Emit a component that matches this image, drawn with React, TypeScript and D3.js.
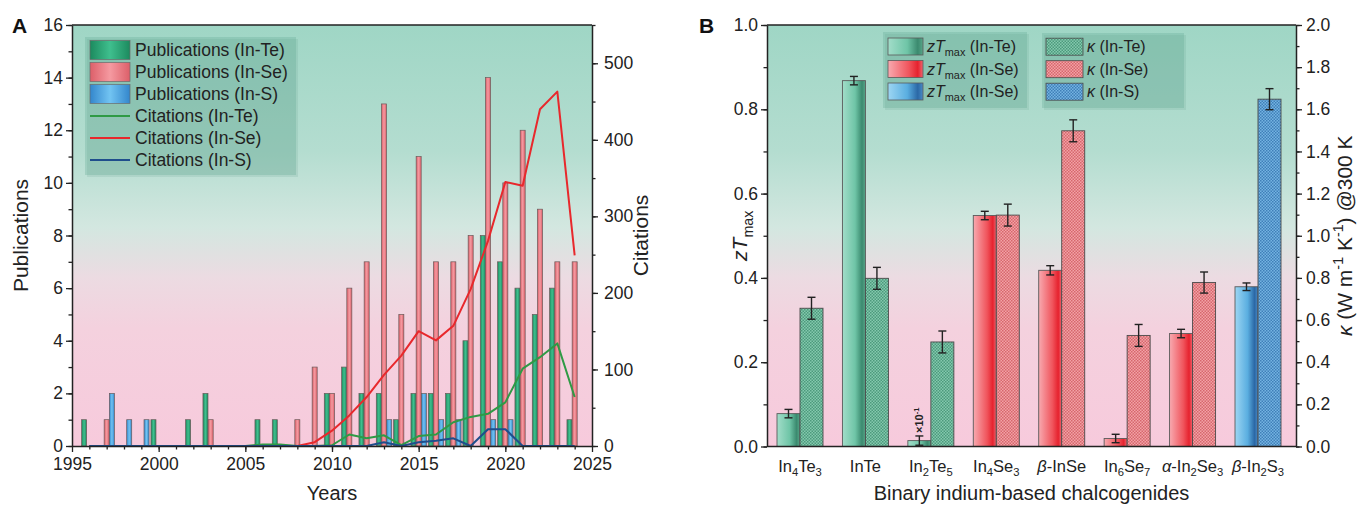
import React, { useEffect, useRef } from 'react';
import * as d3 from 'd3';

const FONT = "'Liberation Sans', Arial, Helvetica, sans-serif";

// ---- panel A data ----
const years = [1996, 1997, 1998, 1999, 2000, 2001, 2002, 2003, 2004, 2005, 2006, 2007, 2008, 2009, 2010,
  2011, 2012, 2013, 2014, 2015, 2016, 2017, 2018, 2019, 2020, 2021, 2022, 2023, 2024];
const pubTe = [1, 0, 0, 0, 1, 0, 1, 2, 0, 0, 1, 1, 0, 0, 2, 3, 2, 2, 1, 2, 2, 2, 4, 8, 7, 6, 5, 6, 1];
const pubSe = [0, 1, 0, 0, 0, 0, 0, 1, 0, 0, 0, 0, 1, 3, 2, 6, 7, 13, 5, 11, 7, 7, 8, 14, 10, 12, 9, 7, 7];
const pubS = [0, 2, 1, 1, 0, 0, 0, 0, 0, 0, 0, 0, 0, 0, 0, 0, 0, 1, 0, 2, 1, 1, 0, 1, 1, 0, 0, 0, 0];
const citeTe = [0, 0, 0, 0, 0, 0, 0, 0, 0, 0, 2, 2, 0, 0, 1, 15, 10, 14, 1, 13, 15, 31, 38, 42, 57, 101, 116, 134, 64];
const citeSe = [0, 0, 0, 0, 0, 0, 0, 0, 0, 0, 0, 0, 0, 5, 20, 40, 64, 93, 118, 150, 138, 157, 205, 268, 345, 340, 440, 463, 249];
const citeS = [0, 0, 0, 0, 0, 0, 0, 0, 0, 0, 0, 0, 0, 0, 0, 0, 0, 5, 0, 5, 7, 10, 0, 22, 22, 0, 0, 0, 0];
const yearTicks = [1995, 2000, 2005, 2010, 2015, 2020, 2025];
const pubTicks = [0, 2, 4, 6, 8, 10, 12, 14, 16];
const citeTicks = [0, 100, 200, 300, 400, 500];

// ---- panel B data ----
const materials = ['In_4Te_3', 'InTe', 'In_2Te_5', 'In_4Se_3', '*β*-InSe', 'In_6Se_7', '*α*-In_2Se_3', '*β*-In_2S_3'];
const families = ['Te', 'Te', 'Te', 'Se', 'Se', 'Se', 'Se', 'S'];
const ztMax = [0.078, 0.868, 0.014, 0.548, 0.418, 0.019, 0.268, 0.379];
const ztErr = [0.01, 0.01, 0.011, 0.01, 0.011, 0.01, 0.01, 0.009];
const kappa = [0.656, 0.798, 0.496, 1.098, 1.498, 0.527, 0.778, 1.648];
const kappaErr = [0.052, 0.052, 0.052, 0.052, 0.052, 0.052, 0.05, 0.05];
const ztTicks = [0, 0.2, 0.4, 0.6, 0.8, 1.0];
const kappaTicks = [0, 0.2, 0.4, 0.6, 0.8, 1.0, 1.2, 1.4, 1.6, 1.8, 2.0];

const famColor = {
  Te: { line: '#2f9a45', grad: 'barTe', zt: 'ztTe', pat: 'patTe' },
  Se: { line: '#e8282c', grad: 'barSe', zt: 'ztSe', pat: 'patSe' },
  S: { line: '#1f4e8c', grad: 'barS', zt: 'ztS', pat: 'patS' },
};

// markup: *italic*, _x / _{..} subscript, ^{..} superscript
function rich(text, content, fs) {
  const parts = content.split(/(\*[^*]+\*|_\{[^}]+\}|_[^{]|\^\{[^}]+\})/).filter((s) => s);
  let shift = 0;
  parts.forEach((p) => {
    let t = p, italic = false, target = 0, size = fs;
    if (p.startsWith('*')) { t = p.slice(1, -1); italic = true; }
    else if (p.startsWith('_')) { t = p[1] === '{' ? p.slice(2, -1) : p.slice(1); target = fs * 0.28; size = fs * 0.68; }
    else if (p.startsWith('^')) { t = p.slice(2, -1); target = -fs * 0.42; size = fs * 0.68; }
    text.append('tspan')
      .attr('dy', target - shift)
      .attr('font-size', size)
      .attr('font-style', italic ? 'italic' : null)
      .text(t);
    shift = target;
  });
}

function styleAxis(g, fs) {
  g.attr('font-family', FONT).attr('font-size', fs).attr('color', '#222');
  g.selectAll('.domain').attr('stroke-width', 1.5);
  g.selectAll('.tick line').attr('stroke-width', 1.3);
}

const App = () => {
  const ref = useRef(null);

  useEffect(() => {
    const svg = d3.select(ref.current);
    svg.selectAll('*').remove();
    const defs = svg.append('defs');

    // background gradient
    const bg = defs.append('linearGradient').attr('id', 'bg').attr('x1', 0).attr('x2', 0).attr('y1', 0).attr('y2', 1);
    [[0, '#9fd6c5'], [0.3, '#b4ddd0'], [0.48, '#d3e7e0'], [0.6, '#ecdbe2'], [0.72, '#f4d1de'], [1, '#f7cadc']]
      .forEach(([o, c]) => bg.append('stop').attr('offset', o).attr('stop-color', c));

    const hGrad = (id, stops) => {
      const g = defs.append('linearGradient').attr('id', id).attr('x1', 0).attr('x2', 1).attr('y1', 0).attr('y2', 0);
      stops.forEach(([o, c]) => g.append('stop').attr('offset', o).attr('stop-color', c));
    };
    hGrad('barTe', [[0, '#1c8a5e'], [0.5, '#3fbf8e'], [1, '#1c8a5e']]);
    hGrad('barSe', [[0, '#dc5f69'], [0.5, '#f59aa1'], [1, '#dc5f69']]);
    hGrad('barS', [[0, '#3386cc'], [0.5, '#72c4f2'], [1, '#3386cc']]);
    hGrad('ztTe', [[0, '#a2ddc9'], [0.55, '#6fc5a7'], [0.85, '#3b8a6f'], [1, '#58a689']]);
    hGrad('ztSe', [[0, '#f8aab0'], [0.6, '#f0545c'], [0.85, '#e6222e'], [1, '#ee6670']]);
    hGrad('ztS', [[0, '#9dd6f3'], [0.55, '#5aaee0'], [0.85, '#2b68a6'], [1, '#4a8bc6']]);

    const pattern = (id, base, dot) => {
      const p = defs.append('pattern').attr('id', id).attr('patternUnits', 'userSpaceOnUse').attr('width', 3).attr('height', 3);
      p.append('rect').attr('width', 3).attr('height', 3).attr('fill', base);
      p.append('rect').attr('width', 1.5).attr('height', 1.5).attr('fill', dot);
      p.append('rect').attr('x', 1.5).attr('y', 1.5).attr('width', 1.5).attr('height', 1.5).attr('fill', dot);
    };
    pattern('patTe', '#84c9ae', '#4c9a7c');
    pattern('patSe', '#f3a2a6', '#d6676d');
    pattern('patS', '#74b4e2', '#3f7fb8');

    // ================= Panel A =================
    const xA = d3.scaleLinear().domain([1995, 2025]).range([72, 592]);
    const yL = d3.scaleLinear().domain([0, 16]).range([446, 25]);
    const yR = d3.scaleLinear().domain([0, 550]).range([446, 25]);
    const A = svg.append('g');

    A.append('rect').attr('x', xA(1995)).attr('y', yL(16)).attr('width', xA(2025) - xA(1995))
      .attr('height', yL(0) - yL(16)).attr('fill', 'url(#bg)');

    const barW = 0.29;
    const pubSeries = [
      { vals: pubTe, off: -0.3, fam: 'Te' },
      { vals: pubSe, off: 0, fam: 'Se' },
      { vals: pubS, off: 0.3, fam: 'S' },
    ];
    pubSeries.forEach((s) => {
      A.append('g').selectAll('rect')
        .data(years.map((yr, i) => ({ yr, v: s.vals[i] })).filter((d) => d.v > 0))
        .join('rect')
        .attr('x', (d) => xA(d.yr + s.off - barW / 2))
        .attr('width', xA(1995 + barW) - xA(1995))
        .attr('y', (d) => yL(d.v))
        .attr('height', (d) => yL(0) - yL(d.v))
        .attr('fill', `url(#${famColor[s.fam].grad})`)
        .attr('stroke', '#6b5a5a')
        .attr('stroke-width', 0.7);
    });

    const line = d3.line().x((d, i) => xA(years[i])).y((d) => yR(d));
    [[citeTe, 'Te'], [citeSe, 'Se'], [citeS, 'S']].forEach(([vals, fam]) => {
      A.append('path').datum(vals).attr('d', line).attr('fill', 'none')
        .attr('stroke', famColor[fam].line).attr('stroke-width', 2).attr('stroke-linejoin', 'round');
    });

    // axes A
    const axB = A.append('g').attr('transform', `translate(0,${yL(0)})`)
      .call(d3.axisBottom(xA).tickValues(yearTicks).tickFormat(d3.format('d')).tickSize(6).tickSizeOuter(0).tickPadding(6));
    A.append('g').attr('transform', `translate(0,${yL(0)})`)
      .call(d3.axisBottom(xA).tickValues(years).tickFormat('').tickSize(3.5).tickSizeOuter(0))
      .call((g) => g.select('.domain').remove()).call((g) => styleAxis(g, 17));
    styleAxis(axB, 17.5);

    const axL = A.append('g').attr('transform', `translate(${xA(1995)},0)`)
      .call(d3.axisLeft(yL).tickValues(pubTicks).tickSize(6).tickSizeOuter(0).tickPadding(3));
    A.append('g').attr('transform', `translate(${xA(1995)},0)`)
      .call(d3.axisLeft(yL).ticks(16).tickFormat('').tickSize(3.5).tickSizeOuter(0))
      .call((g) => g.select('.domain').remove()).call((g) => styleAxis(g, 17));
    styleAxis(axL, 17.5);

    const axR = A.append('g').attr('transform', `translate(${xA(2025)},0)`)
      .call(d3.axisRight(yR).tickValues(citeTicks).tickSize(6).tickSizeOuter(0).tickPadding(6));
    A.append('g').attr('transform', `translate(${xA(2025)},0)`)
      .call(d3.axisRight(yR).ticks(11).tickFormat('').tickSize(3.5).tickSizeOuter(0))
      .call((g) => g.select('.domain').remove()).call((g) => styleAxis(g, 17));
    styleAxis(axR, 17.5);

    A.append('line').attr('x1', xA(1995)).attr('x2', xA(2025)).attr('y1', yL(16)).attr('y2', yL(16))
      .attr('stroke', '#222').attr('stroke-width', 1.5);

    // legend A
    const legA = A.append('g').attr('transform', 'translate(85,37)');
    legA.append('rect').attr('x', 2).attr('y', 2).attr('width', 211).attr('height', 138).attr('fill', 'rgba(90,150,130,0.15)');
    legA.append('rect').attr('width', 211).attr('height', 138).attr('fill', 'rgba(95,165,145,0.28)');
    const legItems = [
      ['Publications (In-Te)', 'bar', 'Te'], ['Publications (In-Se)', 'bar', 'Se'], ['Publications (In-S)', 'bar', 'S'],
      ['Citations (In-Te)', 'line', 'Te'], ['Citations (In-Se)', 'line', 'Se'], ['Citations (In-S)', 'line', 'S'],
    ];
    legItems.forEach(([label, kind, fam], i) => {
      const cy = 13 + i * 22;
      if (kind === 'bar') {
        legA.append('rect').attr('x', 5).attr('y', cy - 9.5).attr('width', 40).attr('height', 19)
          .attr('fill', `url(#${famColor[fam].grad})`).attr('stroke', '#6b6b6b').attr('stroke-width', 0.7);
      } else {
        legA.append('line').attr('x1', 5).attr('x2', 45).attr('y1', cy).attr('y2', cy)
          .attr('stroke', famColor[fam].line).attr('stroke-width', 2);
      }
      legA.append('text').attr('x', 50).attr('y', cy + 6).attr('font-family', FONT).attr('font-size', 17.5)
        .attr('fill', '#222').text(label);
    });

    A.append('text').attr('transform', `translate(28,${(yL(0) + yL(16)) / 2}) rotate(-90)`).attr('text-anchor', 'middle')
      .attr('font-family', FONT).attr('font-size', 21).attr('fill', '#222').text('Publications');
    A.append('text').attr('transform', `translate(648,${(yL(0) + yL(16)) / 2}) rotate(-90)`).attr('text-anchor', 'middle')
      .attr('font-family', FONT).attr('font-size', 21).attr('fill', '#222').text('Citations');
    A.append('text').attr('x', (xA(1995) + xA(2025)) / 2).attr('y', 500).attr('text-anchor', 'middle')
      .attr('font-family', FONT).attr('font-size', 20).attr('fill', '#222').text('Years');
    A.append('text').attr('x', 12).attr('y', 33).attr('font-family', FONT).attr('font-size', 21)
      .attr('font-weight', 'bold').attr('fill', '#111').text('A');

    // ================= Panel B =================
    const xB = d3.scalePoint().domain(materials).range([800, 1258]);
    const yZ = d3.scaleLinear().domain([0, 1]).range([446.5, 25]);
    const yK = d3.scaleLinear().domain([0, 2]).range([446.5, 25]);
    const left = 767, right = 1296;
    const bw = 23;
    const B = svg.append('g');

    B.append('rect').attr('x', left).attr('y', yZ(1)).attr('width', right - left).attr('height', yZ(0) - yZ(1))
      .attr('fill', 'url(#bg)');

    const rows = materials.map((m, i) => ({ m, fam: families[i], zt: ztMax[i], ze: ztErr[i], k: kappa[i], ke: kappaErr[i] }));

    B.append('g').selectAll('rect').data(rows).join('rect')
      .attr('x', (d) => xB(d.m) - bw).attr('width', bw)
      .attr('y', (d) => yZ(d.zt)).attr('height', (d) => yZ(0) - yZ(d.zt))
      .attr('fill', (d) => `url(#${famColor[d.fam].zt})`).attr('stroke', '#5a5a5a').attr('stroke-width', 0.9);
    B.append('g').selectAll('rect').data(rows).join('rect')
      .attr('x', (d) => xB(d.m)).attr('width', bw)
      .attr('y', (d) => yK(d.k)).attr('height', (d) => yK(0) - yK(d.k))
      .attr('fill', (d) => `url(#${famColor[d.fam].pat})`).attr('stroke', '#4a4a4a').attr('stroke-width', 0.9);

    const errBar = (g, cx, yTop, yBot) => {
      g.append('line').attr('x1', cx).attr('x2', cx).attr('y1', yTop).attr('y2', yBot);
      g.append('line').attr('x1', cx - 4).attr('x2', cx + 4).attr('y1', yTop).attr('y2', yTop);
      g.append('line').attr('x1', cx - 4).attr('x2', cx + 4).attr('y1', yBot).attr('y2', yBot);
    };
    const eg = B.append('g').attr('stroke', '#222').attr('stroke-width', 1.4);
    rows.forEach((d) => {
      errBar(eg, xB(d.m) - bw / 2, yZ(d.zt + d.ze), yZ(Math.max(0, d.zt - d.ze)));
      errBar(eg, xB(d.m) + bw / 2, yK(d.k + d.ke), yK(d.k - d.ke));
    });

    // x10^-1 note on In2Te5
    const noteRow = rows[2];
    const note = B.append('text')
      .attr('transform', `translate(${xB(noteRow.m) - bw / 2 + 4},${yZ(noteRow.zt + noteRow.ze) - 3}) rotate(-90)`)
      .attr('font-family', FONT).attr('font-weight', 'bold').attr('fill', '#222');
    rich(note, '×10^{-1}', 11);

    // axes B
    const bx = B.append('g').attr('transform', `translate(0,${yZ(0)})`);
    bx.append('line').attr('x1', left).attr('x2', right).attr('stroke', '#222').attr('stroke-width', 1.5);
    rows.forEach((d) => {
      const t = bx.append('text').attr('x', xB(d.m)).attr('y', 25).attr('text-anchor', 'middle')
        .attr('font-family', FONT).attr('fill', '#222');
      rich(t, d.m, 16.5);
    });

    const bl = B.append('g').attr('transform', `translate(${left},0)`)
      .call(d3.axisLeft(yZ).tickValues(ztTicks).tickFormat(d3.format('.1f')).tickSize(6).tickSizeOuter(0).tickPadding(3));
    B.append('g').attr('transform', `translate(${left},0)`)
      .call(d3.axisLeft(yZ).ticks(10).tickFormat('').tickSize(3.5).tickSizeOuter(0))
      .call((g) => g.select('.domain').remove()).call((g) => styleAxis(g, 17));
    styleAxis(bl, 17.5);

    const br = B.append('g').attr('transform', `translate(${right},0)`)
      .call(d3.axisRight(yK).tickValues(kappaTicks).tickFormat(d3.format('.1f')).tickSize(6).tickSizeOuter(0).tickPadding(4));
    B.append('g').attr('transform', `translate(${right},0)`)
      .call(d3.axisRight(yK).ticks(20).tickFormat('').tickSize(3.5).tickSizeOuter(0))
      .call((g) => g.select('.domain').remove()).call((g) => styleAxis(g, 17));
    styleAxis(br, 17.5);

    B.append('line').attr('x1', left).attr('x2', right).attr('y1', yZ(1)).attr('y2', yZ(1))
      .attr('stroke', '#222').attr('stroke-width', 1.5);

    // legends B
    const legB1 = B.append('g').attr('transform', 'translate(883,32)');
    legB1.append('rect').attr('x', 2).attr('y', 2).attr('width', 144).attr('height', 76).attr('fill', 'rgba(90,150,130,0.15)');
    legB1.append('rect').attr('width', 144).attr('height', 76).attr('fill', 'rgba(95,165,145,0.28)');
    const legB1Items = [['*zT*_{max} (In-Te)', 'Te'], ['*zT*_{max} (In-Se)', 'Se'], ['*zT*_{max} (In-Se)', 'S']];
    legB1Items.forEach(([label, fam], i) => {
      const cy = 14.5 + i * 22.5;
      legB1.append('rect').attr('x', 5).attr('y', cy - 8.5).attr('width', 35).attr('height', 17)
        .attr('fill', `url(#${famColor[fam].zt})`).attr('stroke', '#5a5a5a').attr('stroke-width', 0.8);
      const t = legB1.append('text').attr('x', 44).attr('y', cy + 5.5).attr('font-family', FONT).attr('fill', '#222');
      rich(t, label, 16);
    });

    const legB2 = B.append('g').attr('transform', 'translate(1042,33)');
    legB2.append('rect').attr('x', 2).attr('y', 2).attr('width', 142).attr('height', 75).attr('fill', 'rgba(90,150,130,0.15)');
    legB2.append('rect').attr('width', 142).attr('height', 75).attr('fill', 'rgba(95,165,145,0.28)');
    const legB2Items = [['*κ* (In-Te)', 'Te'], ['*κ* (In-Se)', 'Se'], ['*κ* (In-S)', 'S']];
    legB2Items.forEach(([label, fam], i) => {
      const cy = 13.7 + i * 22.5;
      legB2.append('rect').attr('x', 4).attr('y', cy - 8.5).attr('width', 37).attr('height', 17)
        .attr('fill', `url(#${famColor[fam].pat})`).attr('stroke', '#4a4a4a').attr('stroke-width', 0.8);
      const t = legB2.append('text').attr('x', 45).attr('y', cy + 5.5).attr('font-family', FONT).attr('fill', '#222');
      rich(t, label, 16);
    });

    const midB = (yZ(0) + yZ(1)) / 2;
    const tl = B.append('text').attr('transform', `translate(747,${midB}) rotate(-90)`).attr('text-anchor', 'middle')
      .attr('font-family', FONT).attr('fill', '#222');
    rich(tl, '*zT*_{max}', 21);
    const tr = B.append('text').attr('transform', `translate(1352,${midB}) rotate(-90)`).attr('text-anchor', 'middle')
      .attr('font-family', FONT).attr('fill', '#222');
    rich(tr, '*κ* (W m^{-1} K^{-1}) @300 K', 21);
    B.append('text').attr('x', (left + right) / 2).attr('y', 500).attr('text-anchor', 'middle')
      .attr('font-family', FONT).attr('font-size', 20).attr('fill', '#222').text('Binary indium-based chalcogenides');
    B.append('text').attr('x', 699).attr('y', 33).attr('font-family', FONT).attr('font-size', 21)
      .attr('font-weight', 'bold').attr('fill', '#111').text('B');
  }, []);

  return (
    <svg ref={ref} width={1358} height={507}
      style={{ position: 'absolute', left: 0, top: 0, display: 'block', background: '#fff' }} />
  );
};

export default App;
